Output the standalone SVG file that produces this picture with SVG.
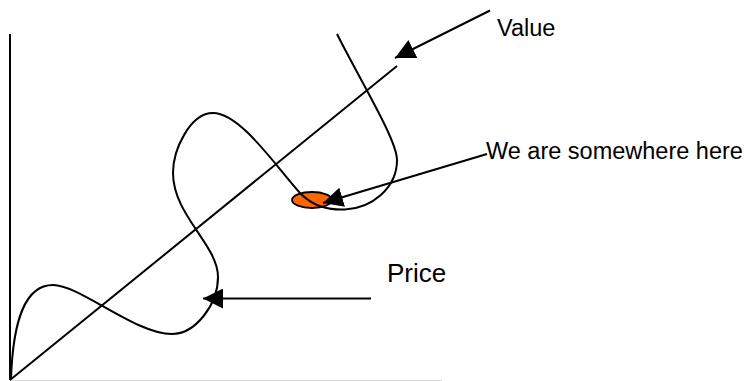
<svg xmlns="http://www.w3.org/2000/svg" width="747" height="381" viewBox="0 0 747 381">
  <style>
    .ln { fill: none; stroke: #000; stroke-width: 2; }
    .lbl { font-family: "Liberation Sans", Arial, sans-serif; fill: #000; }
  </style>
  <defs>
    <marker id="ah" viewBox="0 0 20 20" refX="20" refY="10" markerWidth="20" markerHeight="20" markerUnits="userSpaceOnUse" orient="auto">
      <path d="M0,0 L20,10 L0,20 z" fill="#000"/>
    </marker>
  </defs>
  <rect width="747" height="381" fill="#fff"/>
  <g id="chart">
    <line x1="10" y1="380.5" x2="442" y2="380.5" stroke="#d9d9d9" stroke-width="1"/>
    <line class="ln" x1="10" y1="34" x2="10" y2="380"/>
    <line class="ln" x1="10" y1="380" x2="397" y2="66"/>
  </g>
  <g id="position">
    <ellipse cx="312" cy="200" rx="20" ry="8" fill="#ff6600" stroke="#000" stroke-width="1.8"/>
  </g>
  <g id="price-curve">
    <path class="ln" d="M11,379 C13,320 25,285 53,285 C80,285 135,334 172,334 C195,334 218,305 218,277 C218,245 173,215 173,173 C173,150 190,113 213,113 C240,113 275,165 300,193 C315,208 330,210 345,209.5 C372,208 397,188 397,160 C397,140 360,80 337,34"/>
  </g>
  <g id="connectors">
    <line class="ln" x1="490" y1="10.5" x2="395" y2="58" marker-end="url(#ah)"/>
    <line class="ln" x1="487" y1="154" x2="323" y2="203" marker-end="url(#ah)"/>
    <line class="ln" x1="371" y1="298.5" x2="203" y2="298.5" marker-end="url(#ah)"/>
  </g>
  <g id="value-label">
    <text class="lbl" x="497" y="36" font-size="23.5">Value</text>
  </g>
  <g id="we-label">
    <text class="lbl" x="486" y="159" font-size="23.5">We are somewhere here</text>
  </g>
  <g id="price-label">
    <text class="lbl" x="387" y="281.5" font-size="26">Price</text>
  </g>
</svg>
